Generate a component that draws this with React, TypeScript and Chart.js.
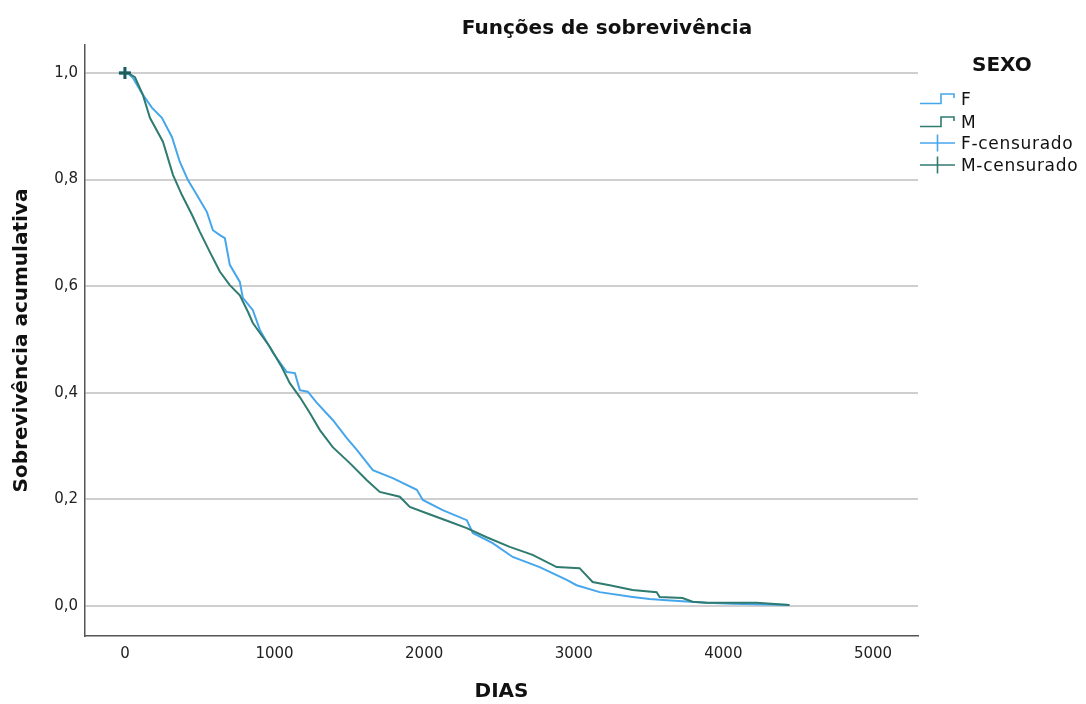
import React, { useEffect, useRef } from 'react';
import { Chart, registerables } from 'chart.js';

Chart.register(...registerables);

// ---- Data ----
const daysF = [0, 25, 53, 120, 180, 247, 314, 367, 421, 481, 548, 588, 640, 668, 701, 768, 788, 855, 902, 989, 1082, 1136, 1169, 1222, 1283, 1389, 1483, 1550, 1657, 1790, 1951, 1991, 2124, 2285, 2325, 2458, 2592, 2772, 2953, 3019, 3173, 3393, 3507, 3620, 3888, 4061, 4442];
const survF = [1.0, 0.998, 0.991, 0.959, 0.935, 0.916, 0.88, 0.833, 0.799, 0.771, 0.739, 0.705, 0.695, 0.69, 0.64, 0.608, 0.578, 0.555, 0.518, 0.475, 0.439, 0.437, 0.405, 0.402, 0.381, 0.349, 0.315, 0.293, 0.255, 0.24, 0.218, 0.199, 0.18, 0.161, 0.137, 0.118, 0.092, 0.073, 0.049, 0.039, 0.026, 0.017, 0.013, 0.011, 0.006, 0.004, 0.002];

const daysM = [0, 20, 67, 120, 167, 254, 321, 381, 448, 501, 568, 635, 701, 768, 822, 855, 969, 1049, 1102, 1169, 1236, 1303, 1389, 1503, 1617, 1703, 1837, 1904, 2017, 2171, 2285, 2418, 2572, 2725, 2886, 3039, 3126, 3240, 3393, 3554, 3574, 3727, 3794, 3888, 4222, 4442];
const survM = [1.0, 1.0, 0.992, 0.959, 0.916, 0.871, 0.809, 0.771, 0.734, 0.702, 0.664, 0.627, 0.602, 0.583, 0.552, 0.531, 0.486, 0.448, 0.418, 0.392, 0.362, 0.33, 0.298, 0.268, 0.236, 0.214, 0.205, 0.186, 0.174, 0.158, 0.146, 0.129, 0.111, 0.096, 0.073, 0.071, 0.045, 0.039, 0.03, 0.026, 0.017, 0.015, 0.008, 0.006, 0.006, 0.002];

const censorDaysF = [0];
const censorSurvF = [1.0];
const censorDaysM = [0];
const censorSurvM = [1.0];

const xTicks = [0, 1000, 2000, 3000, 4000, 5000];
const yTicks = [0, 0.2, 0.4, 0.6, 0.8, 1.0];

const chartTitle = 'Funções de sobrevivência';
const xTitle = 'DIAS';
const yTitle = 'Sobrevivência acumulativa';
const legendTitle = 'SEXO';
const legendLabels = ['F', 'M', 'F-censurado', 'M-censurado'];

const COLOR_F = '#46a6ec';
const COLOR_M = '#2f7b70';
const COLOR_M_CENS = '#1d5f56';
const FONT = '"DejaVu Sans", "Liberation Sans", sans-serif';

const toPoints = (xs: number[], ys: number[]) => xs.map((x, i) => ({ x, y: ys[i] }));

function StepIcon({ color }: { color: string }) {
  return (
    <svg width={36} height={14} style={{ display: 'block' }}>
      <polyline points="0,11.5 21,11.5 21,2 34,2 34,6" fill="none" stroke={color} strokeWidth={1.6} />
    </svg>
  );
}

function CrossIcon({ color }: { color: string }) {
  return (
    <svg width={36} height={18} style={{ display: 'block' }}>
      <line x1={0} y1={9} x2={35} y2={9} stroke={color} strokeWidth={1.6} />
      <line x1={17.5} y1={0.5} x2={17.5} y2={17.5} stroke={color} strokeWidth={1.6} />
    </svg>
  );
}

export default function App() {
  const ref = useRef<HTMLCanvasElement | null>(null);

  useEffect(() => {
    if (!ref.current) return;
    const chart = new Chart(ref.current, {
      type: 'line',
      data: {
        datasets: [
          {
            label: legendLabels[3],
            data: toPoints(censorDaysM, censorSurvM),
            showLine: false,
            pointStyle: 'cross',
            pointRadius: 6,
            pointBorderWidth: 2.8,
            borderColor: COLOR_M_CENS,
            backgroundColor: COLOR_M_CENS,
          },
          {
            label: legendLabels[2],
            data: toPoints(censorDaysF, censorSurvF),
            showLine: false,
            pointStyle: 'cross',
            pointRadius: 6,
            pointBorderWidth: 2.8,
            borderColor: COLOR_F,
            backgroundColor: COLOR_F,
          },
          {
            label: legendLabels[1],
            data: toPoints(daysM, survM),
            borderColor: COLOR_M,
            borderWidth: 2,
            pointRadius: 0,
            tension: 0,
            fill: false,
          },
          {
            label: legendLabels[0],
            data: toPoints(daysF, survF),
            borderColor: COLOR_F,
            borderWidth: 2,
            pointRadius: 0,
            tension: 0,
            fill: false,
          },
        ],
      },
      options: {
        animation: false,
        responsive: false,
        maintainAspectRatio: false,
        layout: { padding: { top: 45, right: 168, bottom: 0, left: 0 } },
        plugins: {
          legend: { display: false },
          title: { display: false },
          tooltip: { enabled: false },
        },
        scales: {
          x: {
            type: 'linear',
            min: -267,
            max: 5301,
            afterBuildTicks: (axis: any) => {
              axis.ticks = xTicks.map((v) => ({ value: v }));
            },
            afterFit: (scale: any) => {
              scale.height = 68;
            },
            grid: { display: false, drawTicks: false },
            border: { display: true, color: '#555555', width: 1.5 },
            ticks: {
              color: '#222222',
              font: { family: FONT, size: 15 },
              padding: 9,
              maxRotation: 0,
              callback: (v: any) => String(v),
            },
            title: {
              display: true,
              text: xTitle,
              color: '#111111',
              font: { family: FONT, size: 20, weight: 'bold' },
              padding: { top: 0, bottom: 0 },
            },
          },
          y: {
            type: 'linear',
            min: -0.0563,
            max: 1.0525,
            afterBuildTicks: (axis: any) => {
              axis.ticks = yTicks.map((v) => ({ value: v }));
            },
            afterFit: (scale: any) => {
              scale.width = 85;
            },
            grid: { display: true, color: '#cfcfcf', lineWidth: 2, drawTicks: false },
            border: { display: true, color: '#555555', width: 1.5 },
            ticks: {
              color: '#222222',
              font: { family: FONT, size: 15 },
              padding: 7,
              callback: (v: any) => Number(v).toFixed(1).replace('.', ','),
            },
            title: {
              display: true,
              text: yTitle,
              color: '#111111',
              font: { family: FONT, size: 20, weight: 'bold' },
              padding: { top: 10, bottom: 0 },
            },
          },
        },
      },
    });
    return () => chart.destroy();
  }, []);

  const rowTop = [92, 115, 136, 158];

  return (
    <div style={{ position: 'fixed', left: 0, top: 0, width: 1086, height: 704, background: '#ffffff', fontFamily: FONT }}>
      <canvas ref={ref} width={1086} height={704} style={{ position: 'absolute', left: 0, top: 0 }} />
      <div
        style={{
          position: 'absolute',
          left: 607,
          top: 14,
          transform: 'translateX(-50%)',
          fontSize: 20,
          fontWeight: 'bold',
          lineHeight: '26px',
          whiteSpace: 'nowrap',
          color: '#111',
        }}
      >
        {chartTitle}
      </div>
      <div
        style={{
          position: 'absolute',
          left: 972,
          top: 51,
          fontSize: 20,
          fontWeight: 'bold',
          lineHeight: '26px',
          color: '#111',
        }}
      >
        {legendTitle}
      </div>
      {legendLabels.map((lab, i) => (
        <div
          key={lab}
          style={{
            position: 'absolute',
            left: 920,
            top: rowTop[i],
            height: 14,
            display: 'flex',
            alignItems: 'center',
            whiteSpace: 'nowrap',
          }}
        >
          <div style={{ width: 41 }}>
            {i < 2 ? (
              <StepIcon color={i === 0 ? COLOR_F : COLOR_M} />
            ) : (
              <CrossIcon color={i === 2 ? COLOR_F : COLOR_M} />
            )}
          </div>
          <span style={{ fontSize: 17, lineHeight: '14px', letterSpacing: '0.7px', color: '#111' }}>{lab}</span>
        </div>
      ))}
    </div>
  );
}
